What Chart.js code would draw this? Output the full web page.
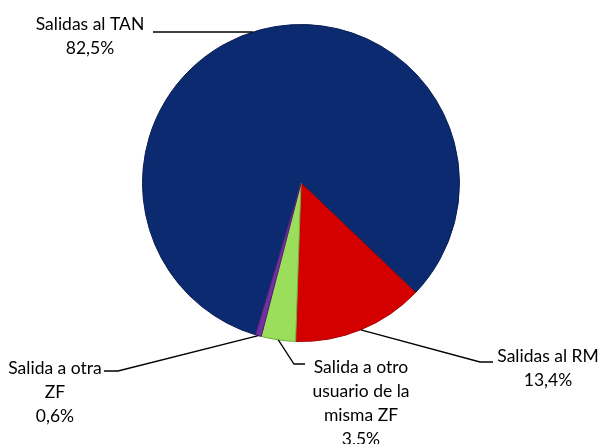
<!DOCTYPE html>
<html>
<head>
<meta charset="utf-8">
<script src="https://cdn.jsdelivr.net/npm/chart.js@4"></script>
<style>
  html, body { margin: 0; padding: 0; background: #fff; }
  #wrap { width: 604px; height: 444px; }
</style>
</head>
<body>
<div id="wrap"><canvas id="pie"></canvas></div>
<script>
const categories = ["Salidas al TAN", "Salidas al RM", "Salida a otro usuario de la misma ZF", "Salida a otra ZF"];
const shares = [82.5, 13.4, 3.5, 0.6];
const sliceColors = ["#0b2a70", "#d40000", "#9ade5b", "#7030a0"];
const edgeColors = ["#081d52", "#a30000", "#6fae3c", "#4e1f75"];

// label text lines and where each label sits
const labelLines = [
  ["Salidas al TAN", "82,5%"],
  ["Salidas al RM", "13,4%"],
  ["Salida a otro", "usuario de la", "misma ZF", "3,5%"],
  ["Salida a otra", "ZF", "0,6%"]
];
const labelPos = [
  { x: 90, y: 24 },
  { x: 548, y: 356 },
  { x: 361, y: 367 },
  { x: 55, y: 368 }
];

const leaderLabels = {
  id: "leaderLabels",
  afterDraw(chart) {
    const ctx = chart.ctx;
    const arcs = chart.getDatasetMeta(0).data;
    ctx.save();
    ctx.strokeStyle = "#000";
    ctx.lineWidth = 1.3;
    ctx.font = "17.5px Lato";
    ctx.fillStyle = "#000";
    ctx.textAlign = "center";
    ctx.textBaseline = "middle";

    arcs.forEach((arc, i) => {
      const { x, y, startAngle, endAngle, outerRadius } = arc.getProps(["x", "y", "startAngle", "endAngle", "outerRadius"], true);
      const mid = (startAngle + endAngle) / 2;
      const px = x + Math.cos(mid) * outerRadius;
      const py = y + Math.sin(mid) * outerRadius;
      ctx.beginPath();
      if (i === 0) {
        // horizontal leader to the edge of the pie
        const ly = 32;
        const ex = x - Math.sqrt(outerRadius * outerRadius - (ly - y) * (ly - y));
        ctx.moveTo(153, ly);
        ctx.lineTo(ex, ly);
      } else if (i === 1) {
        ctx.moveTo(px, py);
        ctx.lineTo(480, 362);
        ctx.lineTo(493, 362);
      } else if (i === 2) {
        ctx.moveTo(px, py);
        ctx.lineTo(294, 364);
        ctx.lineTo(305, 364);
      } else {
        ctx.moveTo(px, py);
        ctx.lineTo(118, 371);
        ctx.lineTo(104, 371);
      }
      ctx.stroke();

      labelLines[i].forEach((t, k) => {
        ctx.fillText(t, labelPos[i].x, labelPos[i].y + k * 24);
      });
    });
    ctx.restore();
  }
};

new Chart(document.getElementById("pie"), {
  type: "pie",
  data: {
    labels: categories,
    datasets: [{
      data: shares,
      backgroundColor: sliceColors,
      borderColor: edgeColors,
      borderWidth: 1
    }]
  },
  options: {
    responsive: true,
    maintainAspectRatio: false,
    animation: false,
    rotation: 196.7,
    layout: { padding: { top: 24, bottom: 102, left: 142, right: 144 } },
    plugins: {
      legend: { display: false },
      tooltip: { enabled: false }
    }
  },
  plugins: [leaderLabels]
});
</script>
</body>
</html>
